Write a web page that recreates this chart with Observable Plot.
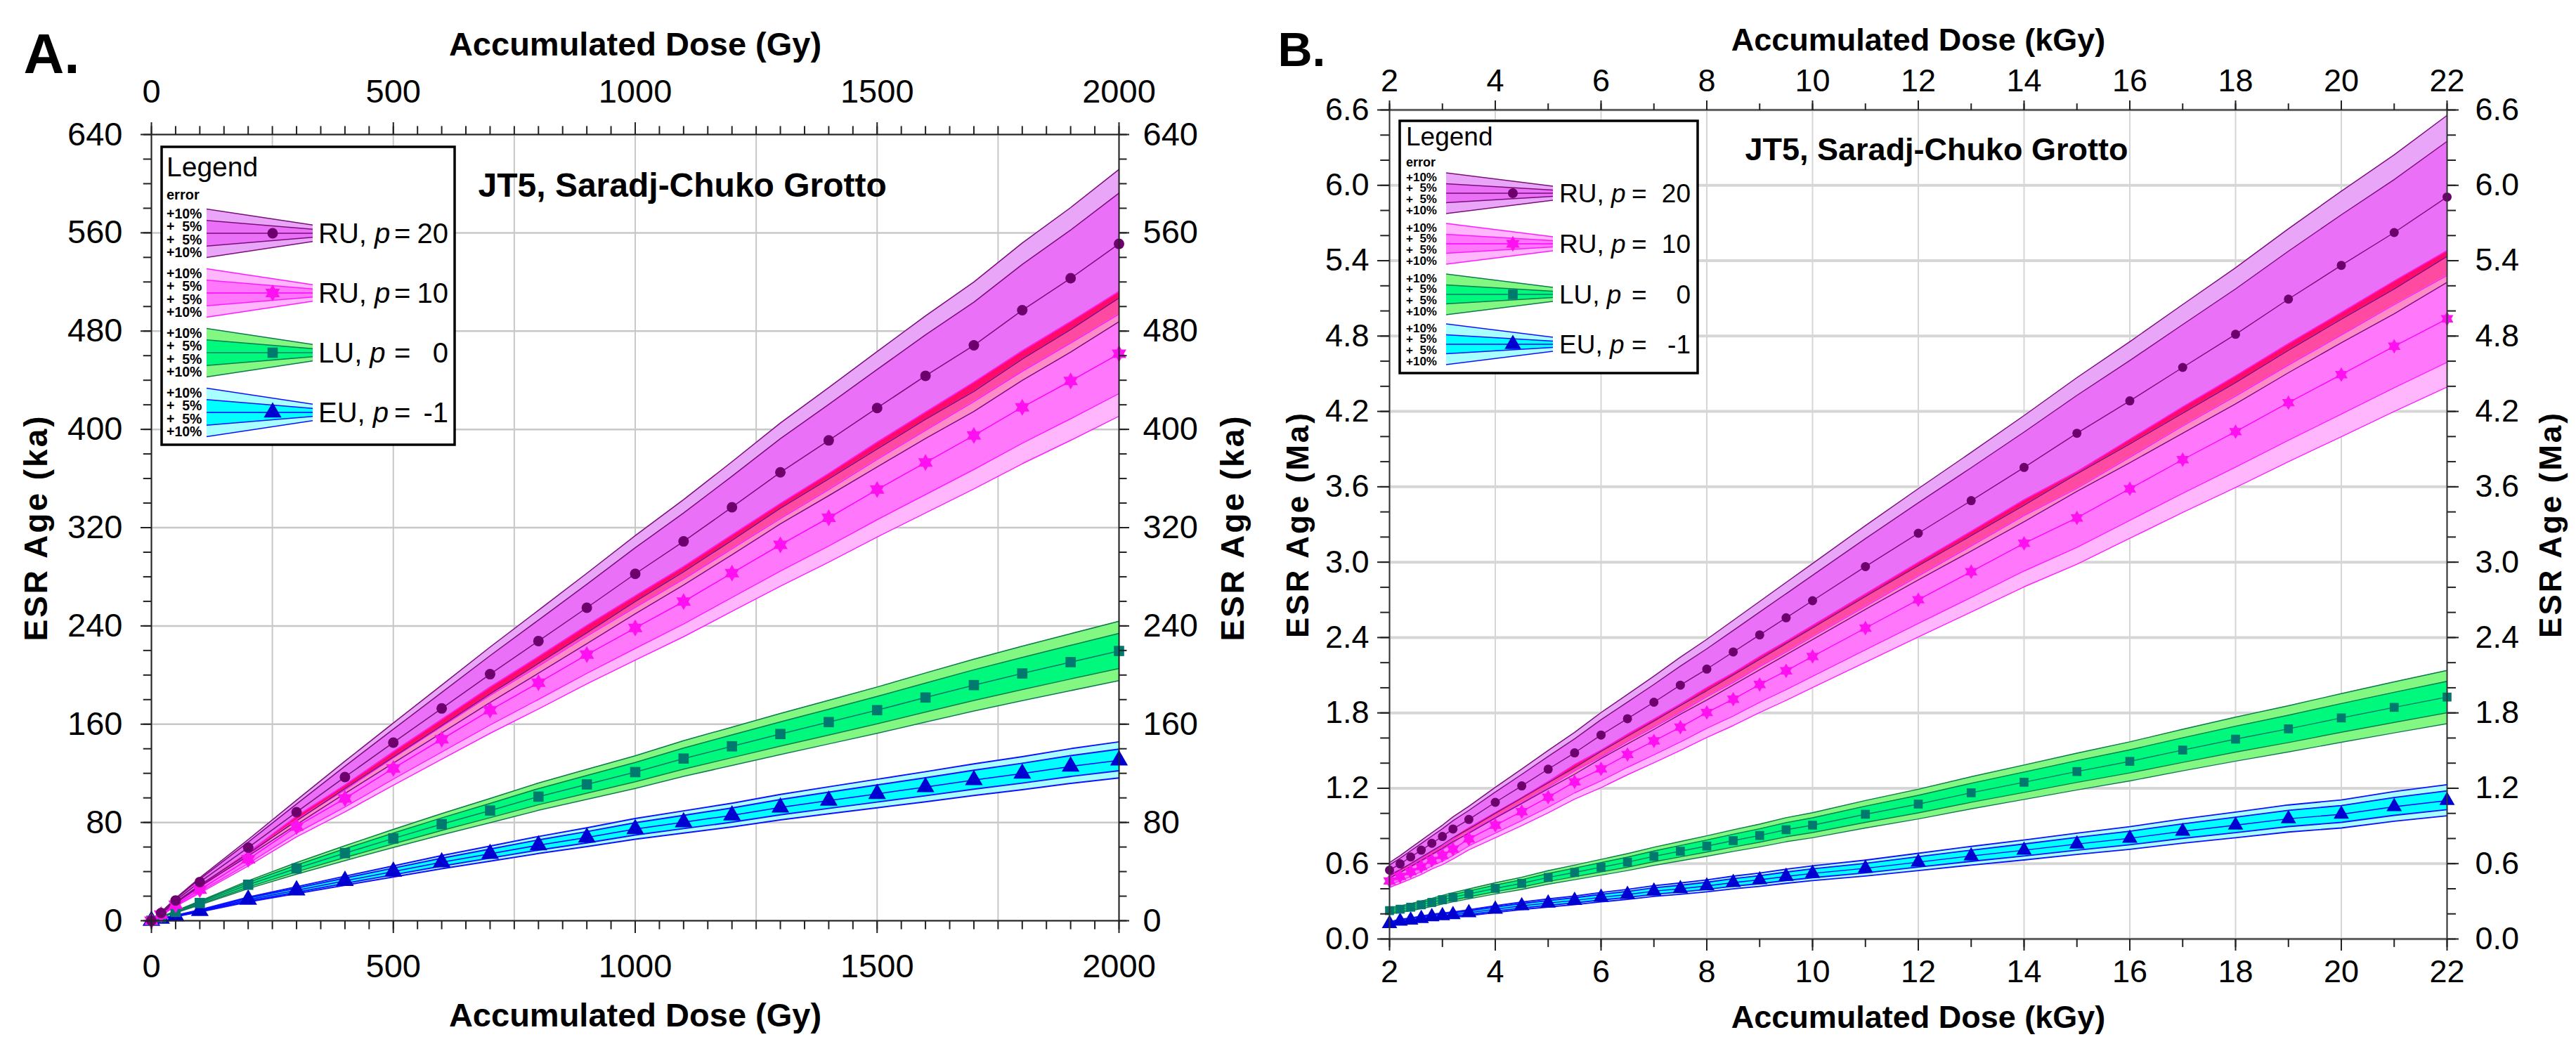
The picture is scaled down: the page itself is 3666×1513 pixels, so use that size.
<!DOCTYPE html>
<html><head><meta charset="utf-8">
<script src="https://cdn.jsdelivr.net/npm/d3@7"></script>
<script src="https://cdn.jsdelivr.net/npm/@observablehq/plot@0.6"></script>
<style>
body{margin:0;background:#fff;}
#root{position:relative;width:3666px;height:1513px;overflow:hidden;background:#fff;font-family:"Liberation Sans",Arial,sans-serif;}
.panel{position:absolute;top:0;}
#legend{position:absolute;left:0;top:0;pointer-events:none;}
</style></head><body>
<div id="root"><div id="pa" class="panel" style="left:0px"></div><div id="pb" class="panel" style="left:1800px"></div></div>
<script>
// ---------- DATA ----------
// Panel A: accumulated dose (Gy) and ESR ages (ka)
const doseA = [0, 20, 50, 100, 200, 300, 400, 500, 600, 700, 800, 900, 1000, 1100, 1200, 1300, 1400, 1500, 1600, 1700, 1800, 1900, 2000];
const ageA_RU20 = [0, 6.3, 16.5, 31.5, 59.5, 88.4, 117, 145, 172.8, 200.7, 227.7, 254.8, 282.4, 308.8, 336.6, 365, 391, 417.4, 443.6, 468.4, 497, 523, 551];
const ageA_RU10 = [0, 5.0, 13.0, 25.3, 50, 76.7, 99.5, 124, 147.7, 171.4, 193.7, 216.6, 238.3, 259.8, 283, 306, 328, 351, 373, 395, 418, 439.4, 461.5];
const ageA_LU = [0, 2.9, 7.2, 14.4, 29.3, 42.6, 55, 67, 78.6, 89.7, 101, 111, 121, 132, 142, 152, 161.7, 171.4, 181.7, 191.8, 201.3, 210.5, 219.6];
const ageA_EU = [0, 1.7, 3.8, 8.0, 17.2, 24.8, 32.5, 40, 47.6, 54.5, 61.5, 67.8, 74.6, 80.2, 85.8, 92.2, 97.8, 103.3, 108.8, 114.5, 119.8, 125.6, 130.6];

// Panel B: accumulated dose (kGy) and ESR ages (Ma)
const doseB = [2, 2.2, 2.4, 2.6, 2.8, 3, 3.2, 3.5, 4, 4.5, 5, 5.5, 6, 6.5, 7, 7.5, 8, 8.5, 9, 9.5, 10, 11, 12, 13, 14, 15, 16, 17, 18, 19, 20, 21, 22];
const ageB_RU20 = [0.548, 0.598, 0.653, 0.707, 0.762, 0.816, 0.876, 0.952, 1.088, 1.219, 1.352, 1.482, 1.624, 1.754, 1.885, 2.021, 2.149, 2.285, 2.421, 2.557, 2.693, 2.965, 3.23, 3.49, 3.754, 4.026, 4.284, 4.55, 4.814, 5.094, 5.363, 5.624, 5.907];
const ageB_RU10 = [0.462, 0.498, 0.536, 0.577, 0.626, 0.666, 0.715, 0.797, 0.906, 1.014, 1.129, 1.251, 1.354, 1.469, 1.577, 1.686, 1.803, 1.909, 2.026, 2.135, 2.249, 2.475, 2.701, 2.924, 3.150, 3.352, 3.584, 3.816, 4.039, 4.27, 4.493, 4.719, 4.937];
const ageB_LU = [0.226, 0.237, 0.253, 0.272, 0.291, 0.313, 0.332, 0.359, 0.403, 0.443, 0.490, 0.530, 0.571, 0.612, 0.658, 0.699, 0.740, 0.783, 0.824, 0.870, 0.906, 0.993, 1.074, 1.164, 1.248, 1.333, 1.414, 1.504, 1.591, 1.673, 1.760, 1.844, 1.926];
const ageB_EU = [0.122, 0.141, 0.150, 0.163, 0.177, 0.185, 0.193, 0.209, 0.237, 0.264, 0.286, 0.307, 0.332, 0.354, 0.381, 0.400, 0.422, 0.449, 0.471, 0.498, 0.522, 0.563, 0.612, 0.661, 0.707, 0.756, 0.802, 0.857, 0.906, 0.957, 0.993, 1.053, 1.102];

// Tick values
const xTicksA = [0, 500, 1000, 1500, 2000];
const yTicksA = [0, 80, 160, 240, 320, 400, 480, 560, 640];
const xTicksB = [2, 4, 6, 8, 10, 12, 14, 16, 18, 20, 22];
const yTicksB = [0, 0.6, 1.2, 1.8, 2.4, 3.0, 3.6, 4.2, 4.8, 5.4, 6.0, 6.6];

// Legend text
const legendModels = ["RU", "RU", "LU", "EU"];
const legendP = ["20", "10", "0", "-1"];
const errorLabels = ["+10%", "+\u20075%", "+\u20075%", "+10%"];

// ---------- STYLES ----------
const FONT = "'Liberation Sans', Arial, Helvetica, sans-serif";
// six-pointed star symbol (as in the reference)
const hexagram = {
  draw(context, size) {
    const R = Math.sqrt(size / Math.PI) * 1.6, r = R / Math.sqrt(3);
    for (let k = 0; k < 12; ++k) {
      const a = -Math.PI / 2 + k * Math.PI / 6, rr = k % 2 ? r : R;
      const x = rr * Math.cos(a), y = rr * Math.sin(a);
      k ? context.lineTo(x, y) : context.moveTo(x, y);
    }
    context.closePath();
  }
};
const sRU20 = {outer:"#e9a6f8", inner:"#ea70f8", edge:"#7b0d7b", line:"#7b0d7b", mark:"#6e006e", symbol:"circle", sc:1, o:[0.885,1.11], i:[0.92,1.075]};
const sRU10 = {outer:"#ffb6fc", inner:"#ff78fb", edge:"#ff1aff", line:"#ff00ff", mark:"#ff10f0", symbol:hexagram, sc:1, o:[0.89,1.11], i:[0.93,1.07]};
const sLU   = {outer:"#82f882", inner:"#00f87c", edge:"#0b7a50", line:"#0b7a6a", mark:"#007a6e", symbol:"square", sc:1.1, o:[0.89,1.11], i:[0.935,1.065]};
const sEU   = {outer:"#a8ffff", inner:"#00ffff", edge:"#1010ff", line:"#0000ff", mark:"#0000d0", symbol:"triangle", sc:1.25, o:[0.89,1.115], i:[0.935,1.07]};
const styles = [sRU20, sRU10, sLU, sEU];

const mkRows = (dose, age) => dose.map((d, i) => ({dose: d, age: age[i]}));
function inter(l1, h1, l2, h2) { const lo = Math.max(l1, l2), hi = Math.min(h1, h2); return hi > lo ? [lo, hi] : [lo, lo]; }

function seriesMarks(sets, dose, r, sw) {
  const [ru20, ru10, lu, eu] = sets.map(a => mkRows(dose, a));
  const ov = dose.map((d, i) => ({dose: d, a: sets[0][i], b: sets[1][i]}));
  const A = sRU20, B = sRU10;
  const band = (rows, s) => [
    Plot.areaY(rows, {x: "dose", y1: d => d.age * s.o[0], y2: d => d.age * s.o[1], fill: s.outer}),
    Plot.areaY(rows, {x: "dose", y1: d => d.age * s.i[0], y2: d => d.age * s.i[1], fill: s.inner})
  ];
  const over = (f, color) => Plot.areaY(ov, {x: "dose", y1: d => f(d)[0], y2: d => f(d)[1], fill: color});
  const edges = (rows, s, w) => [s.o[0], s.o[1], s.i[0], s.i[1]].map(f =>
    Plot.lineY(rows, {x: "dose", y: d => d.age * f, stroke: s.edge, strokeWidth: w}));
  const center = (rows, s) => Plot.lineY(rows, {x: "dose", y: "age", stroke: s.line, strokeWidth: sw});
  const dots = (rows, s) => Plot.dot(rows, {x: "dose", y: "age", symbol: s.symbol, fill: s.mark, stroke: "none", r: r * s.sc});
  return [
    ...band(eu, sEU), ...band(lu, sLU), ...band(ru10, sRU10), ...band(ru20, sRU20),
    over(d => inter(d.a * A.i[0], d.a * A.i[1], d.b * B.i[1], d.b * B.o[1]), "#ff0a6a"),
    over(d => inter(d.a * A.o[0], d.a * A.i[0], d.b * B.i[1], d.b * B.o[1]), "#ff4aa2"),
    over(d => inter(d.a * A.o[0], d.a * A.i[0], d.b * B.i[0], d.b * B.i[1]), "#ff8cc6"),
    ...edges(eu, sEU, sw * 1.3), ...edges(lu, sLU, sw), ...edges(ru10, sRU10, sw), ...edges(ru20, sRU20, sw),
    center(eu, sEU), center(lu, sLU), center(ru10, sRU10), center(ru20, sRU20),
    dots(eu, sEU), dots(lu, sLU), dots(ru10, sRU10), dots(ru20, sRU20)
  ];
}

function axes(o) {
  const common = {label: null, stroke: "#222", strokeWidth: 2, fontSize: o.fs, fill: "#000"};
  return [
    Plot.axisX(o.xMajor, {...common, anchor: "top", tickSize: o.tT, tickPadding: o.pT, tickFormat: o.xf}),
    Plot.axisX(o.xMinor, {...common, anchor: "top", tickSize: o.tT * 0.7, tickFormat: () => ""}),
    Plot.axisX(o.xMajor, {...common, anchor: "bottom", tickSize: o.tB, tickPadding: o.pB, tickFormat: o.xf}),
    Plot.axisX(o.xMinor, {...common, anchor: "bottom", tickSize: o.tB * 0.7, tickFormat: () => ""}),
    Plot.axisY(o.yMajor, {...common, anchor: "left", tickSize: o.tL, tickPadding: o.pL, tickFormat: o.yf}),
    Plot.axisY(o.yMinor, {...common, anchor: "left", tickSize: o.tL * 0.75, tickFormat: () => ""}),
    Plot.axisY(o.yMajor, {...common, anchor: "right", tickSize: o.tR, tickPadding: o.pR, tickFormat: o.yf}),
    Plot.axisY(o.yMinor, {...common, anchor: "right", tickSize: o.tR * 0.75, tickFormat: () => ""})
  ];
}

function titles(o) {
  const t = {text: d => d, fontWeight: "bold", fill: "#000", lineAnchor: "middle"};
  return [
    Plot.text([o.xTitle], {...t, frameAnchor: "top", textAnchor: "middle", dy: o.topY, fontSize: o.tfs}),
    Plot.text([o.xTitle], {...t, frameAnchor: "bottom", textAnchor: "middle", dy: o.botY, fontSize: o.tfs}),
    Plot.text([o.yTitle], {...t, frameAnchor: "left", textAnchor: "middle", rotate: -90, dx: o.leftX, fontSize: o.yfs, ariaDescription: "ytitle"}),
    Plot.text([o.yTitle], {...t, frameAnchor: "right", textAnchor: "middle", rotate: -90, dx: o.rightX, fontSize: o.yfs, ariaDescription: "ytitle"}),
    Plot.text([o.site], {...t, frameAnchor: "top-left", textAnchor: "start", dx: o.siteX, dy: o.siteY, fontSize: o.sfs}),
    Plot.text([o.panel], {...t, frameAnchor: "top-left", textAnchor: "start", lineAnchor: "bottom", dx: o.panelX, dy: o.panelY, fontSize: o.pfs})
  ];
}

const plotStyle = {fontFamily: FONT, background: "transparent", overflow: "visible", maxWidth: "none", color: "#000"};

// ---------- PANEL A ----------
const plotA = Plot.plot({
  width: 1800, height: 1513,
  marginLeft: 215, marginRight: 208, marginTop: 191, marginBottom: 203,
  x: {domain: [0, 2000]}, y: {domain: [0, 640]},
  style: plotStyle,
  marks: [
    Plot.gridX(d3.range(0, 2001, 250), {stroke: "#c8c8c8", strokeOpacity: 1, strokeWidth: 2}),
    Plot.gridY(yTicksA, {stroke: "#c8c8c8", strokeOpacity: 1, strokeWidth: 2.5}),
    ...seriesMarks([ageA_RU20, ageA_RU10, ageA_LU, ageA_EU], doseA, 7.5, 1.5),
    Plot.frame({stroke: "#222", strokeWidth: 2}),
    ...axes({xMajor: xTicksA, xMinor: d3.range(0, 2001, 50), yMajor: yTicksA, yMinor: d3.range(0, 641, 20),
      fs: 47, tT: 18, pT: 28, tB: 18, pB: 29, tL: 15, pL: 26, tR: 14, pR: 20,
      xf: d3.format("d"), yf: d3.format("d")}),
    ...titles({xTitle: "Accumulated Dose (Gy)", yTitle: "ESR Age (ka)", site: "JT5, Saradj-Chuko Grotto", panel: "A.",
      topY: -128, botY: 135, leftX: -163, rightX: 163, siteX: 465, siteY: 73, panelX: -182, panelY: -88,
      tfs: 47, yfs: 46, sfs: 48, pfs: 80})
  ]
});
document.getElementById("pa").appendChild(plotA);

// ---------- PANEL B ----------
const plotB = Plot.plot({
  width: 1866, height: 1513,
  marginLeft: 177, marginRight: 184, marginTop: 156, marginBottom: 177,
  x: {domain: [2, 22]}, y: {domain: [0, 6.6]},
  style: plotStyle,
  marks: [
    Plot.gridX(xTicksB, {stroke: "#d6d6d6", strokeOpacity: 1, strokeWidth: 2}),
    Plot.gridY(yTicksB, {stroke: "#d6d6d6", strokeOpacity: 1, strokeWidth: 4}),
    ...seriesMarks([ageB_RU20, ageB_RU10, ageB_LU, ageB_EU], doseB, 6.5, 1.4),
    Plot.frame({stroke: "#333", strokeWidth: 2}),
    ...axes({xMajor: xTicksB, xMinor: d3.range(2, 22.5, 1), yMajor: yTicksB, yMinor: d3.range(0, 6.65, 0.2),
      fs: 45, tT: 14, pT: 13, tB: 17, pB: 13, tL: 17, pL: 12, tR: 16, pR: 24,
      xf: d3.format("d"), yf: d3.format(".1f")}),
    ...titles({xTitle: "Accumulated Dose (kGy)", yTitle: "ESR Age (Ma)", site: "JT5, Saradj-Chuko Grotto", panel: "B.",
      topY: -99, botY: 112, leftX: -130, rightX: 148, siteX: 506, siteY: 57, panelX: -159, panelY: -63,
      tfs: 45, yfs: 44, sfs: 45, pfs: 68})
  ]
});
document.getElementById("pb").appendChild(plotB);

d3.selectAll("text").filter(function() { return this.textContent.startsWith("ESR Age"); })
  .style("letter-spacing", "3px");

// ---------- LEGENDS ----------
const svg = d3.select("#root").append("svg").attr("id", "legend")
  .attr("width", 3666).attr("height", 1513).style("font-family", FONT);

function symbolPath(s, rr) {
  const size = Math.PI * rr * rr;
  if (typeof s.symbol !== "string") return d3.symbol().type(s.symbol).size(size)();
  const t = {circle: d3.symbolCircle, square: d3.symbolSquare, triangle: d3.symbolTriangle}[s.symbol];
  return d3.symbol().type(t).size(size)();
}

function drawLegend(L) {
  const g = svg.append("g");
  g.append("rect").attr("x", L.x0).attr("y", L.y0).attr("width", L.x1 - L.x0).attr("height", L.y1 - L.y0)
    .attr("fill", "#fff").attr("stroke", "#000").attr("stroke-width", 3.5);
  g.append("text").attr("x", L.tx).attr("y", L.legendBase).attr("font-size", L.legendSize).text("Legend");
  g.append("text").attr("x", L.tx).attr("y", L.errBase).attr("font-size", L.errSize).attr("font-weight", "bold").text("error");
  styles.forEach((s, k) => {
    const cy = L.centers[k], wl = L.wl, wr = L.wr;
    const poly = (hl, hr) => [[wl, cy - hl], [wr, cy - hr], [wr, cy + hr], [wl, cy + hl]].map(p => p.join(",")).join(" ");
    g.append("polygon").attr("points", poly(L.hoL, L.hoR)).attr("fill", s.outer);
    g.append("polygon").attr("points", poly(L.hiL, L.hiR)).attr("fill", s.inner);
    [[-L.hoL, -L.hoR], [-L.hiL, -L.hiR], [0, 0], [L.hiL, L.hiR], [L.hoL, L.hoR]].forEach(([a, b]) =>
      g.append("line").attr("x1", wl).attr("y1", cy + a).attr("x2", wr).attr("y2", cy + b)
        .attr("stroke", a === 0 ? s.line : s.edge).attr("stroke-width", 1.5));
    g.append("path").attr("d", symbolPath(s, L.mr * s.sc))
      .attr("transform", `translate(${L.mx},${cy})`).attr("fill", s.mark);
    errorLabels.forEach((t, j) =>
      g.append("text").attr("x", L.tx).attr("y", cy + L.rows[j]).attr("dominant-baseline", "central")
        .attr("font-size", L.rowSize).attr("font-weight", "bold").text(t));
    const lab = g.append("text").attr("x", L.lx).attr("y", cy).attr("dominant-baseline", "central").attr("font-size", L.labelSize);
    lab.append("tspan").text(legendModels[k] + ", ");
    lab.append("tspan").attr("font-style", "italic").text("p");
    g.append("text").attr("x", L.eqx).attr("y", cy).attr("dominant-baseline", "central").attr("font-size", L.labelSize).text("=");
    g.append("text").attr("x", L.nx).attr("y", cy).attr("dominant-baseline", "central").attr("text-anchor", "end")
      .attr("font-size", L.labelSize).text(legendP[k]);
  });
}

drawLegend({x0: 230, y0: 209, x1: 647, y1: 633, tx: 237, legendBase: 251, legendSize: 39, errBase: 284, errSize: 20,
  centers: [332, 417, 502, 587], rows: [-28, -10, 9, 27], rowSize: 19.5,
  wl: 294, wr: 445, hoL: 34.5, hiL: 18.3, hoR: 11.7, hiR: 5.7, mx: 388, mr: 7.5,
  lx: 453, eqx: 561, nx: 638, labelSize: 40});
drawLegend({x0: 1992, y0: 172, x1: 2416, y1: 531, tx: 2001, legendBase: 207, legendSize: 37, errBase: 237, errSize: 18,
  centers: [275, 347, 419, 490], rows: [-23, -7.5, 8, 24], rowSize: 17,
  wl: 2058, wr: 2210, hoL: 29, hiL: 13.5, hoR: 10, hiR: 4.5, mx: 2153, mr: 7,
  lx: 2219, eqx: 2322, nx: 2406, labelSize: 37});
</script>
</body></html>
